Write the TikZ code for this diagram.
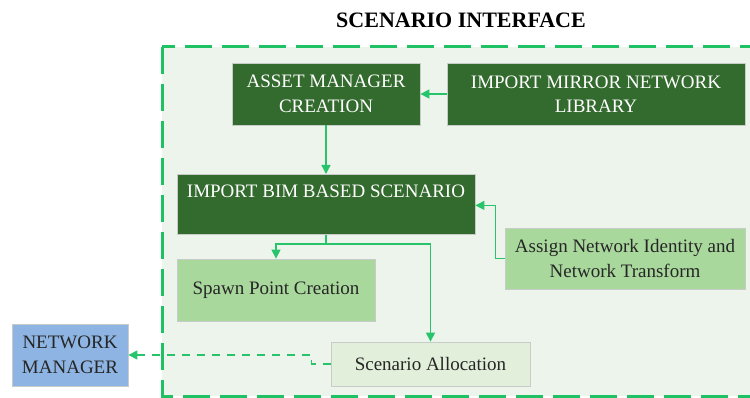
\documentclass[tikz,border=0pt]{standalone}
\usepackage{fontspec}
\setmainfont{Liberation Serif}
\usetikzlibrary{arrows.meta}

\definecolor{framegreen}{HTML}{1EC265}
\definecolor{framefill}{HTML}{ECF4EB}
\definecolor{linegreen}{HTML}{27C46B}
\definecolor{darkgreen}{HTML}{336A2D}
\definecolor{lightgreen}{HTML}{A9D89D}
\definecolor{palegreen}{HTML}{E2EFDA}
\definecolor{netblue}{HTML}{8DB4E2}
\definecolor{boxedge}{HTML}{C8CCC8}
\definecolor{inktext}{HTML}{262626}

\tikzset{
  boxtext/.style={font=\fontsize{19}{24.5}\selectfont, align=center, inner sep=0pt},
  darkbox/.style={boxtext, rectangle, fill=darkgreen, draw=boxedge, line width=0.8pt, text=white},
  lightbox/.style={boxtext, rectangle, fill=lightgreen, draw=boxedge, line width=0.8pt, text=inktext},
  palebox/.style={boxtext, rectangle, fill=palegreen, draw=boxedge, line width=0.8pt, text=inktext},
  bluebox/.style={boxtext, rectangle, fill=netblue, draw=boxedge, line width=0.8pt, text=inktext},
  link/.style={draw=linegreen, line width=1.3pt},
  flow/.style={link, -{Triangle[length=9pt,width=9pt]}},
  dashflow/.style={flow, dash pattern=on 8pt off 7pt},
  frameline/.style={draw=framegreen, line width=3pt, dash pattern=on 27pt off 10pt, fill=framefill}
}

\begin{document}
\begin{tikzpicture}[x=1pt,y=-1pt]
  \useasboundingbox (0,0) rectangle (750,398);
  \clip (0,0) rectangle (750,398);
  \fill[white] (0,0) rectangle (750,398);

  % interface frame, running off the right edge
  \draw[frameline] (162,47) rectangle (800,396);

  \node[font=\bfseries\fontsize{22}{26}\selectfont, inner sep=0pt] (title) at (461,20) {SCENARIO INTERFACE};

  % stages
  \node[darkbox, minimum width=188pt, minimum height=62pt] (asset) at (326,94) {ASSET MANAGER\\CREATION};
  \node[darkbox, minimum width=298pt, minimum height=62pt] (mirror) at (596,94) {IMPORT MIRROR NETWORK\\LIBRARY};
  \node[darkbox, minimum width=298pt, text height=23pt, text depth=37pt, anchor=north] (bim) at (326,174) {IMPORT BIM BASED SCENARIO};
  \node[lightbox, minimum width=198pt, minimum height=62pt] (spawn) at (276,290) {Spawn Point Creation};
  \node[lightbox, minimum width=240pt, minimum height=61pt] (assign) at (625,258.5) {Assign Network Identity and\\Network Transform};
  \node[palebox, minimum width=199pt, minimum height=44pt] (alloc) at (430.5,364) {Scenario Allocation};
  \node[bluebox, minimum width=116pt, minimum height=62pt] (netmgr) at (70,355) {NETWORK\\MANAGER};

  % connectors
  \draw[flow] (mirror.west) -- (asset.east);
  \draw[flow] (asset.south) -- (bim.north);
  \coordinate (split) at (326,244);
  \draw[link] (bim.south) -- (split);
  \draw[flow] (split) -| (spawn.north);
  \draw[flow] (split) -| (alloc.north);
  \draw[flow] (assign.west) -- ++(-9,0) |- ([yshift=-1pt]bim.east);
  \draw[dashflow] (alloc.west) -- ++(-19,0) |- (netmgr.east);
\end{tikzpicture}
\end{document}
